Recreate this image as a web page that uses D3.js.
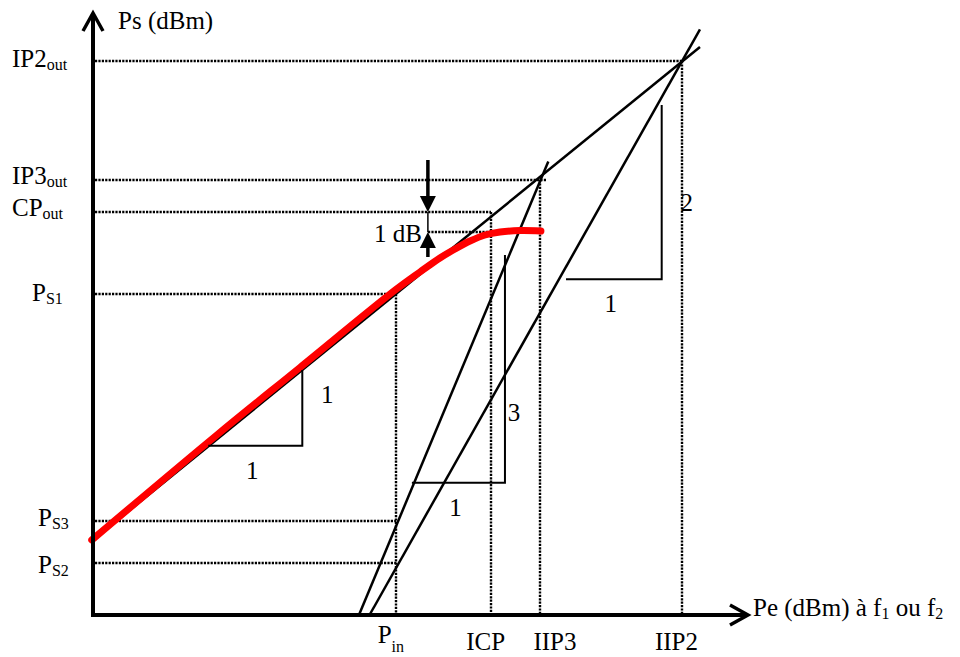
<!DOCTYPE html>
<html>
<head>
<meta charset="utf-8">
<script src="https://cdn.jsdelivr.net/npm/d3@7"></script>
<style>
    body { margin: 0; background: #fff; }
    text { font-family: "Liberation Serif", "Times New Roman", serif; fill: #000; }
</style>
</head>
<body>
<div id="chart-area"></div>
<script>
// input levels marked on the horizontal axis (dBm), name = [main, subscript]
const inputNames = [["P", "in"], ["ICP", ""], ["IIP3", ""], ["IIP2", ""]];
const inputLevels = [-12.7, -8.85, -6.85, -1.1];

// output levels marked on the vertical axis (dBm)
const outputNames = [["IP2", "out"], ["IP3", "out"], ["CP", "out"], ["P", "S1"], ["P", "S3"], ["P", "S2"]];
const outputLevels = [7.7, 1.75, 0.15, -3.95, -15.3, -17.4];
const outputMeets = [3, 2, 1, 0, 0, 0];   // input level each horizontal guide runs to
const inputFrom = [3, 2, 1, 0];            // output level each vertical guide starts at

// 1 dB below the compression point
const compressedLevel = -0.85;
const oneDbAt = -11.4;

// asymptotes, two end points each
const fundPe = [-25, -0.35];
const fundPs = [-16.25, 8.4];
const im3Pe = [-14.2, -6.51];
const im3Ps = [-20, 2.67];
const im2Pe = [-13.77, -0.35];
const im2Ps = [-20, 9.28];

// real fundamental output (red)
const measPe = [-25.05, -20, -16.6, -12.7, -11.72, -10.91, -10.3, -9.69, -9.08, -8.47, -7.66, -6.81];
const measPs = [-16.25, -11.03, -7.63, -3.73, -2.85, -2.15, -1.7, -1.3, -1.0, -0.85, -0.78, -0.8];

// slope triangles: run pe0 -> pe1 at ps0, rise ps0 -> ps1 at pe1
const slopePe0 = [-20.32, -12.05, -5.79];
const slopePe1 = [-16.5, -8.27, -1.905];
const slopePs0 = [-11.54, -13.385, -3.215];
const slopePs1 = [-7.75, -2.0, 5.5];
const slopeRun = ["1", "1", "1"];
const slopeRise = ["1", "3", "2"];

// layout only
const yLabelLeft = [12, 12, 12, 32, 38, 38];
const yLabelDy = [6, 4, 4, 7, 5, 10];
const xLabelDx = [-5, -5, 15, -5];
const riseDx = [25, 9, 25];
const riseFrac = [0.44, 0.73, 0.61];

const width = 960;
const height = 657;

const x = d3.scaleLinear().domain([-25, 1.6]).range([93, 748]);
const y = d3.scaleLinear().domain([-20, 10.1]).range([615, 13]);

const svg = d3.select("#chart-area")
    .append("svg")
    .attr("width", width)
    .attr("height", height)
    .style("background", "#fff");

const dotted = (x1, y1, x2, y2) => {
    svg.append("line")
        .attr("x1", Math.round(x1)).attr("y1", Math.round(y1))
        .attr("x2", Math.round(x2)).attr("y2", Math.round(y2))
        .attr("stroke", "#000")
        .attr("stroke-width", 2.4)
        .attr("stroke-dasharray", "2.2,1.2");
};

// horizontal guides
outputLevels.forEach((v, i) => {
    const end = x(inputLevels[outputMeets[i]]) + (i === 1 ? 7 : 0);
    dotted(x(-25) + 2, y(v), end, y(v));
});
// vertical guides
inputLevels.forEach((v, i) => {
    dotted(x(v), y(outputLevels[inputFrom[i]]), x(v), y(-20));
});
// 1 dB guide
dotted(x(oneDbAt), y(compressedLevel), x(measPe[measPe.length - 1]), y(compressedLevel));

// asymptotes
[[fundPe, fundPs], [im3Pe, im3Ps], [im2Pe, im2Ps]].forEach(([pe, ps]) => {
    svg.append("line")
        .attr("x1", x(pe[0])).attr("y1", y(ps[0]))
        .attr("x2", x(pe[1])).attr("y2", y(ps[1]))
        .attr("stroke", "#000")
        .attr("stroke-width", 2.5);
});

// real output
const curve = d3.line()
    .x(d => x(d[0]))
    .y(d => y(d[1]))
    .curve(d3.curveCatmullRom.alpha(0.5));

svg.append("path")
    .attr("d", curve(d3.zip(measPe, measPs)))
    .attr("fill", "none")
    .attr("stroke", "#ff0000")
    .attr("stroke-width", 7)
    .attr("stroke-linecap", "round");

// slope triangles
slopePe0.forEach((pe0, i) => {
    const x0 = x(pe0), x1 = x(slopePe1[i]);
    const y0 = y(slopePs0[i]), y1 = y(slopePs1[i]);
    svg.append("path")
        .attr("d", `M${x0},${y0} L${x1},${y0} L${x1},${y1}`)
        .attr("fill", "none")
        .attr("stroke", "#000")
        .attr("stroke-width", 2);
    svg.append("text")
        .attr("x", (x0 + x1) / 2 - 3)
        .attr("y", y0 + 33)
        .attr("text-anchor", "middle")
        .attr("font-size", 25)
        .text(slopeRun[i]);
    svg.append("text")
        .attr("x", x1 + riseDx[i])
        .attr("y", y1 + riseFrac[i] * (y0 - y1))
        .attr("text-anchor", "middle")
        .attr("font-size", 25)
        .text(slopeRise[i]);
});

// 1 dB double arrow
const xa = x(oneDbAt);
const yc = y(outputLevels[2]);
const yd = y(compressedLevel);
svg.append("line")
    .attr("x1", xa).attr("y1", yc - 52).attr("x2", xa).attr("y2", yc - 14)
    .attr("stroke", "#000").attr("stroke-width", 3.5);
svg.append("line")
    .attr("x1", xa).attr("y1", yc).attr("x2", xa).attr("y2", yd)
    .attr("stroke", "#000").attr("stroke-width", 1.5);
svg.append("line")
    .attr("x1", xa).attr("y1", yd + 14).attr("x2", xa).attr("y2", yd + 25)
    .attr("stroke", "#000").attr("stroke-width", 3.5);
svg.append("path")
    .attr("d", `M${xa - 8},${yc - 16} L${xa + 8},${yc - 16} L${xa},${yc} Z`)
    .attr("fill", "#000");
svg.append("path")
    .attr("d", `M${xa - 8},${yd + 16} L${xa + 8},${yd + 16} L${xa},${yd} Z`)
    .attr("fill", "#000");
svg.append("text")
    .attr("x", xa - 6)
    .attr("y", yd + 10)
    .attr("text-anchor", "end")
    .attr("font-size", 25)
    .text("1 dB");

// axes with open arrow heads
const ax0 = x(-25), ax1 = x(1.6), ay0 = y(-20), ay1 = y(10.1);
svg.append("path")
    .attr("d", `M${ax0},${ay1} L${ax0},${ay0} L${ax1},${ay0}`)
    .attr("fill", "none")
    .attr("stroke", "#000")
    .attr("stroke-width", 4);
svg.append("path")
    .attr("d", `M${ax0 - 10},${ay1 + 18} L${ax0},${ay1} L${ax0 + 10},${ay1 + 18}`)
    .attr("fill", "none")
    .attr("stroke", "#000")
    .attr("stroke-width", 3.5);
svg.append("path")
    .attr("d", `M${ax1 - 18},${ay0 - 10} L${ax1},${ay0} L${ax1 - 18},${ay0 + 10}`)
    .attr("fill", "none")
    .attr("stroke", "#000")
    .attr("stroke-width", 3.5);

// labels on the vertical axis
outputNames.forEach((n, i) => {
    const t = svg.append("text")
        .attr("x", yLabelLeft[i])
        .attr("y", y(outputLevels[i]) + yLabelDy[i])
        .attr("font-size", 25);
    t.append("tspan").text(n[0]);
    t.append("tspan").attr("font-size", 16).attr("dy", 3).text(n[1]);
});

// labels on the horizontal axis
inputNames.forEach((n, i) => {
    const t = svg.append("text")
        .attr("x", x(inputLevels[i]) + xLabelDx[i])
        .attr("y", n[1] ? 643 : 650)
        .attr("text-anchor", "middle")
        .attr("font-size", 25);
    t.append("tspan").text(n[0]);
    if (n[1]) t.append("tspan").attr("font-size", 16).attr("dy", 9).text(n[1]);
});

// axis titles
svg.append("text")
    .attr("x", ax0 + 25)
    .attr("y", 29)
    .attr("font-size", 25)
    .text("Ps (dBm)");

const xt = svg.append("text")
    .attr("x", ax1 + 5)
    .attr("y", ay0 + 1)
    .attr("font-size", 25);
xt.append("tspan").text("Pe (dBm) à f");
xt.append("tspan").attr("font-size", 16).attr("dy", 3).text("1");
xt.append("tspan").attr("dy", -3).text(" ou f");
xt.append("tspan").attr("font-size", 16).attr("dy", 3).text("2");
</script>
</body>
</html>
